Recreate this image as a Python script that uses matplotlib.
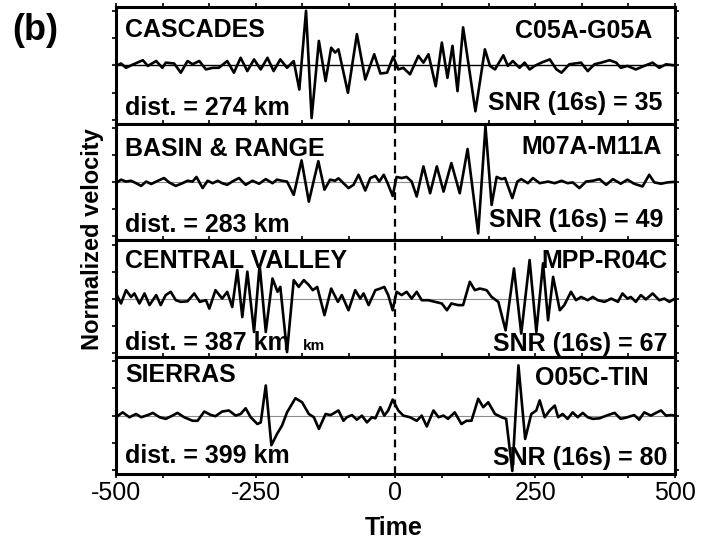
import numpy as np
import matplotlib
matplotlib.use("Agg")
import matplotlib.pyplot as plt
from matplotlib.ticker import MultipleLocator

plt.rcParams["font.family"] = ["Liberation Sans", "DejaVu Sans"]
plt.rcParams["axes.unicode_minus"] = False

# ===================== DATA =====================

cascades_t = [-500, -491, -482, -473, -452, -443, -428, -417, -411, -396,
              -384, -372, -363, -351, -339, -327, -316, -301, -289, -277,
              -265, -253, -241, -229, -218, -206, -194, -182, -172, -160,
              -150, -137, -125, -115, -108, -102, -85, -69, -54, -38,
              -27, -15, -4, 5, 14, 26, 41, 50, 59, 72,
              83, 93, 102, 111, 121, 143, 160, 169, 178, 193,
              201, 210, 222, 231, 240, 249, 261, 276, 288, 297,
              311, 332, 344, 356, 368, 383, 395, 403, 415, 430,
              445, 460, 472, 484, 500]
cascades_v = [-0.02, 0.07, -0.09, 0.00, 0.19, -0.02, 0.16, -0.09, 0.10, 0.07,
              -0.27, 0.16, 0.04, 0.16, -0.15, -0.09, -0.09, 0.16, -0.27, 0.28,
              -0.21, 0.22, -0.15, 0.28, -0.21, 0.22, -0.09, 0.16, -0.89, 2.01,
              -1.94, 0.90, -0.58, 0.65, 0.47, 0.59, -1.01, 1.15, -0.52, 0.41,
              -0.30, -0.27, 0.32, -0.15, -0.09, -0.33, 0.35, 0.10, 0.41, -0.77,
              0.84, -0.46, 0.72, -0.95, 1.40, -1.69, 0.59, -0.02, -0.15, 0.37,
              -0.02, 0.16, -0.09, 0.10, -0.15, -0.02, 0.10, 0.22, -0.15, -0.27,
              0.04, 0.10, -0.21, 0.04, 0.10, 0.19, 0.10, -0.09, -0.02, -0.15,
              -0.02, 0.10, -0.09, 0.04, 0.00]

basin_t = [-500, -491, -482, -473, -464, -455, -446, -437, -425, -414,
           -405, -393, -381, -372, -363, -356, -345, -336, -327, -318,
           -310, -301, -292, -280, -268, -256, -244, -232, -220, -212,
           -203, -194, -182, -168, -155, -138, -127, -117, -108, -102,
           -93, -84, -75, -66, -54, -45, -36, -29, -21, -14,
           -5, 2, 11, 20, 29, 38, 50, 62, 74, 86,
           100, 115, 129, 148, 161, 172, 181, 190, 196, 209,
           218, 225, 237, 246, 258, 273, 285, 297, 308, 317,
           329, 341, 353, 365, 377, 389, 403, 415, 427, 442,
           454, 463, 475, 487, 500]
basin_v = [-0.04, 0.09, 0.02, 0.05, -0.04, -0.14, 0.02, -0.07, 0.05, 0.15,
           -0.01, -0.14, -0.04, 0.05, 0.02, 0.19, -0.22, 0.05, -0.04, 0.05,
           -0.04, -0.10, 0.02, 0.15, -0.10, 0.05, -0.06, 0.11, -0.04, 0.09,
           0.05, 0.02, -0.47, 0.80, -0.72, 0.77, -0.28, 0.09, 0.05, 0.14,
           -0.04, -0.22, -0.10, 0.27, -0.31, 0.15, 0.23, 0.02, 0.27, -0.04,
           -0.51, 0.19, 0.15, 0.19, 0.02, -0.53, 0.58, -0.41, 0.58, -0.35,
           0.70, -0.41, 1.22, -1.89, 2.06, -0.84, 0.19, 0.11, 0.15, -0.59,
           0.02, 0.11, -0.04, 0.15, -0.04, 0.02, -0.04, 0.05, -0.04, -0.01,
           -0.22, 0.02, 0.05, 0.11, -0.10, 0.11, -0.06, 0.09, -0.06, -0.16,
           0.27, -0.01, -0.06, -0.01, 0.01]

valley_t = [-500, -491, -482, -473, -467, -458, -449, -440, -428, -420,
            -411, -402, -393, -384, -372, -360, -350, -339, -333, -322,
            -310, -301, -292, -283, -274, -265, -253, -243, -232, -220,
            -211, -206, -194, -182, -173, -164, -155, -148, -140, -127,
            -115, -103, -96, -84, -72, -63, -57, -48, -36, -27,
            -20, -13, -5, 2, 11, 20, 29, 38, 47, 59,
            71, 83, 92, 100, 112, 121, 133, 142, 151, 163,
            172, 184, 197, 212, 225, 240, 252, 264, 273, 282,
            294, 302, 314, 323, 332, 344, 353, 362, 374, 386,
            398, 406, 415, 421, 430, 439, 448, 460, 472, 481,
            490, 500]
valley_v = [0.20, -0.17, 0.32, 0.07, 0.20, -0.17, 0.20, -0.23, 0.14, -0.23,
            0.14, 0.26, -0.05, -0.11, -0.09, 0.20, -0.11, -0.05, -0.36, 0.32,
            0.01, 0.26, -0.30, 1.06, -0.67, 1.00, -1.22, 1.25, -1.22, 0.75,
            0.26, 0.44, -1.96, 0.69, 0.44, 0.69, 0.51, 0.32, 0.44, -0.60,
            0.38, -0.11, 0.14, -0.42, 0.32, 0.01, 0.20, -0.23, 0.32, 0.38,
            0.44, 0.14, -0.42, 0.26, 0.14, 0.26, 0.01, 0.26, -0.05, -0.05,
            -0.11, -0.17, -0.42, -0.17, -0.23, -0.23, 0.63, 0.32, 0.38, 0.32,
            0.07, -0.11, -1.16, 1.12, -1.28, 1.43, -1.22, 1.31, -0.79, 0.81,
            -0.42, -0.23, 0.26, -0.05, 0.07, -0.05, 0.07, -0.05, -0.11, 0.01,
            -0.11, 0.20, 0.01, 0.07, -0.11, 0.14, -0.02, 0.20, -0.05, 0.01,
            -0.11, 0.01]

sierras_t = [-500, -488, -476, -464, -455, -443, -434, -422, -411, -399,
             -390, -378, -363, -354, -342, -330, -322, -310, -298, -286,
             -277, -268, -259, -247, -241, -232, -222, -212, -203, -194,
             -179, -167, -155, -146, -137, -125, -116, -102, -93, -87,
             -78, -69, -60, -51, -42, -36, -27, -20, -13, -5,
             5, 14, 26, 38, 47, 56, 68, 77, 86, 94,
             106, 118, 127, 136, 148, 157, 166, 178, 190, 198,
             209, 220, 232, 243, 252, 258, 267, 276, 285, 291,
             299, 308, 317, 326, 335, 344, 353, 365, 380, 392,
             403, 415, 427, 436, 445, 457, 466, 475, 484, 493,
             500]
sierras_v = [-0.06, 0.12, -0.06, 0.06, -0.06, 0.02, 0.10, -0.06, -0.12, 0.00,
             0.10, -0.06, -0.19, -0.19, 0.15, 0.02, -0.02, 0.15, 0.19, 0.00,
             0.06, 0.27, -0.06, -0.31, -0.25, 1.11, -1.09, -0.68, -0.37, 0.12,
             0.64, 0.49, 0.06, -0.06, -0.49, 0.06, 0.02, 0.19, -0.19, -0.06,
             0.02, -0.15, 0.00, -0.25, -0.06, -0.10, 0.31, 0.00, 0.19, 0.59,
             0.19, 0.00, -0.06, -0.19, 0.00, -0.40, 0.19, -0.06, 0.00, -0.12,
             0.12, -0.31, -0.19, -0.19, 0.62, 0.31, 0.49, 0.06, -0.06, -0.12,
             -2.04, 1.85, -0.86, 0.06, 0.19, 0.56, -0.06, 0.19, 0.37, -0.06,
             0.06, -0.12, 0.12, -0.06, 0.10, -0.06, -0.12, -0.10, 0.02, 0.10,
             -0.12, -0.06, 0.02, -0.15, 0.12, 0.00, 0.10, 0.19, 0.00, 0.02,
             0.00]

regions = ["CASCADES", "BASIN & RANGE", "CENTRAL VALLEY", "SIERRAS"]
station_pairs = ["C05A-G05A", "M07A-M11A", "MPP-R04C", "O05C-TIN"]
distances_km = [274, 283, 387, 399]
snr_values = [35, 49, 67, 80]
traces = [(cascades_t, cascades_v), (basin_t, basin_v),
          (valley_t, valley_v), (sierras_t, sierras_v)]

# ===================== LAYOUT =====================

# baseline heights (axes fraction) of the four labels in each panel:
# region, distance, station pair, SNR
label_y = [(0.746, 0.075, 0.732, 0.118),
           (0.726, 0.069, 0.740, 0.112),
           (0.766, 0.066, 0.766, 0.052),
           (0.792, 0.092, 0.763, 0.078)]
pair_x = [0.959, 0.977, 0.987, 0.952]
snr_x = [0.977, 0.979, 0.986, 0.986]
zero_colors = ["black", "#8c8c8c", "#8c8c8c", "#8c8c8c"]

fig = plt.figure(figsize=(7.15, 5.42), dpi=100)

left, width = 0.1622, 0.7818
top, bottom = 0.9871, 0.1255
h = (top - bottom) / 4

for i in range(4):
    ax = fig.add_axes([left, top - (i + 1) * h, width, h])
    t, v = traces[i]
    ax.axhline(0, color=zero_colors[i], lw=1.0 if i == 0 else 0.8, zorder=1)
    ax.plot(t, v, color="black", lw=1.9, solid_joinstyle="round", zorder=2)
    ax.axvline(0, color="black", lw=1.6, linestyle=(0, (3.5, 2.5)), zorder=3)

    ax.set_xlim(-500, 500)
    ax.set_ylim(-2.15, 2.15)
    ax.set_yticks([-2, -1, 0, 1, 2])
    ax.xaxis.set_major_locator(MultipleLocator(250))
    ax.xaxis.set_minor_locator(MultipleLocator(250 / 3))

    last = i == 3
    ax.tick_params(axis="both", which="both", direction="out", length=3,
                   width=1.2, top=True, bottom=last, left=True, right=True,
                   labelleft=False, labelbottom=last)
    ax.tick_params(axis="x", labelsize=18, pad=2)
    for s in ax.spines.values():
        s.set_linewidth(2.2)

    ly = label_y[i]
    kw = dict(transform=ax.transAxes, fontsize=18, fontweight="bold",
              va="baseline", zorder=5)
    ax.text(0.016, ly[0], regions[i], ha="left", **kw)
    ax.text(0.016, ly[1], f"dist. = {distances_km[i]} km", ha="left", **kw)
    ax.text(pair_x[i], ly[2], station_pairs[i], ha="right", **kw)
    ax.text(snr_x[i], ly[3], f"SNR (16s) = {snr_values[i]}", ha="right", **kw)
    if i == 2:
        ax.text(0.3345, ly[1], "km", ha="left", transform=ax.transAxes,
                fontsize=11, fontweight="bold", va="baseline", zorder=5)

fig.text(0.017, 0.926, "(b)", fontsize=26, fontweight="bold", va="baseline")
fig.text(0.130, 0.559, "Normalized velocity", fontsize=17, fontweight="bold",
         rotation=90, ha="center", va="center")
fig.text(0.550, 0.013, "Time", fontsize=18, fontweight="bold",
         ha="center", va="baseline")

fig.savefig("out.png", dpi=100)
